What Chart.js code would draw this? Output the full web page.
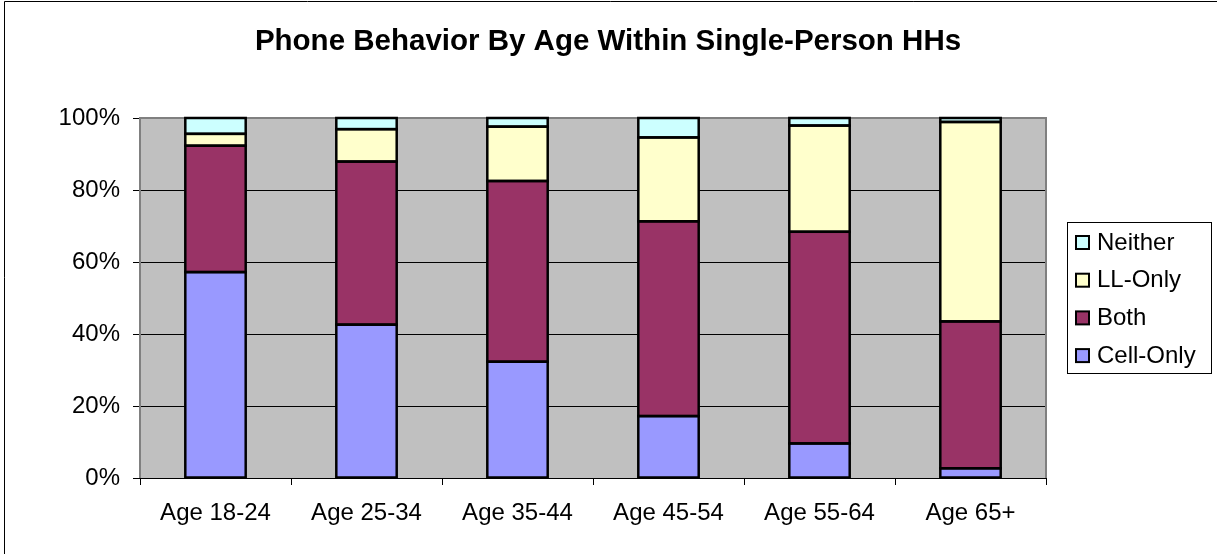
<!DOCTYPE html>
<html>
<head>
<meta charset="utf-8">
<script src="https://cdn.jsdelivr.net/npm/chart.js@4/dist/chart.umd.min.js"></script>
<style>
  html, body { margin: 0; padding: 0; background: #ffffff; }
  #wrap { position: relative; width: 1217px; height: 554px; }
</style>
</head>
<body>
<div id="wrap"><canvas id="c" width="1217" height="554"></canvas></div>
<script>
const categories = ["Age 18-24", "Age 25-34", "Age 35-44", "Age 45-54", "Age 55-64", "Age 65+"];
const cellOnly = [57.2, 42.6, 32.3, 17.2, 9.6, 2.7];
const both     = [35.1, 45.3, 50.2, 54.1, 58.8, 40.8];
const llOnly   = [3.3, 9.0, 15.1, 23.3, 29.5, 55.4];
const neither  = [4.4, 3.1, 2.4, 5.4, 2.1, 1.1];
const yTicks = [0, 20, 40, 60, 80, 100];
const titleText = "Phone Behavior By Age Within Single-Person HHs";

const FONT = "'Liberation Sans', Arial, sans-serif";

const framePlugin = {
  id: 'frame',
  beforeDraw(chart) {
    const ctx = chart.ctx, a = chart.chartArea;
    ctx.save();
    ctx.fillStyle = '#C0C0C0';
    ctx.fillRect(a.left, a.top, a.right - a.left, a.bottom - a.top);
    // outer border (left and top)
    ctx.strokeStyle = '#000000';
    ctx.lineWidth = 1;
    ctx.beginPath();
    ctx.moveTo(4.5, 554);
    ctx.lineTo(4.5, 1.5);
    ctx.lineTo(1217, 1.5);
    ctx.stroke();
    // title
    ctx.fillStyle = '#000000';
    ctx.font = 'bold 29.5px ' + FONT;
    ctx.textAlign = 'center';
    ctx.textBaseline = 'middle';
    ctx.fillText(titleText, 608, 42);
    ctx.restore();
  },
  beforeDatasetsDraw(chart) {
    const ctx = chart.ctx, a = chart.chartArea;
    ctx.save();
    ctx.strokeStyle = '#808080';
    ctx.lineWidth = 2;
    ctx.beginPath();
    ctx.moveTo(a.left, a.bottom);
    ctx.lineTo(a.left, a.top);
    ctx.lineTo(a.right, a.top);
    ctx.lineTo(a.right, a.bottom);
    ctx.stroke();
    ctx.strokeStyle = '#000000';
    ctx.lineWidth = 1;
    ctx.beginPath();
    ctx.moveTo(a.left - 7, a.bottom + 0.5);
    ctx.lineTo(a.right + 1, a.bottom + 0.5);
    ctx.stroke();
    ctx.restore();
  },
  afterDatasetsDraw(chart) {
    // outline every bar segment from the library's own elements
    const ctx = chart.ctx;
    ctx.save();
    ctx.strokeStyle = '#000000';
    ctx.lineWidth = 2.5;
    chart.data.datasets.forEach((d, di) => {
      chart.getDatasetMeta(di).data.forEach(el => {
        const p = el.getProps(['x', 'y', 'base', 'width'], true);
        const left = p.x - p.width / 2;
        const top = Math.min(p.y, p.base);
        const h = Math.abs(p.base - p.y);
        ctx.strokeRect(left, top, p.width, h);
      });
    });
    ctx.restore();
  },
  afterDraw(chart) {
    // legend box (reversed order: top series first)
    const ctx = chart.ctx;
    const x0 = 1067.5, y0 = 222.5, w = 144, h = 151;
    ctx.save();
    ctx.fillStyle = '#ffffff';
    ctx.fillRect(x0, y0, w, h);
    ctx.strokeStyle = '#000000';
    ctx.lineWidth = 1;
    ctx.strokeRect(x0, y0, w, h);
    const ds = chart.data.datasets.slice().reverse();
    ctx.font = '24px ' + FONT;
    ctx.textBaseline = 'middle';
    ctx.textAlign = 'left';
    ds.forEach((d, i) => {
      const cy = 242 + i * 37.7;
      ctx.fillStyle = d.backgroundColor;
      ctx.fillRect(1076, cy - 6, 13, 13);
      ctx.lineWidth = 2;
      ctx.strokeStyle = '#000000';
      ctx.strokeRect(1076, cy - 6, 13, 13);
      ctx.fillStyle = '#000000';
      ctx.fillText(d.label, 1097, cy + 1);
    });
    ctx.restore();
  }
};

const mk = (label, data, color) => ({
  label, data,
  backgroundColor: color,
  borderWidth: 0,
  barPercentage: 0.4,
  categoryPercentage: 1.0
});

new Chart(document.getElementById('c'), {
  type: 'bar',
  data: {
    labels: categories,
    datasets: [
      mk('Cell-Only', cellOnly, '#9999FF'),
      mk('Both', both, '#993366'),
      mk('LL-Only', llOnly, '#FFFFCC'),
      mk('Neither', neither, '#CCFFFF')
    ]
  },
  options: {
    responsive: false,
    animation: false,
    devicePixelRatio: 1,
    layout: { padding: { top: 118, left: 0, right: 171, bottom: 0 } },
    plugins: {
      legend: { display: false },
      tooltip: { enabled: false },
      title: { display: false }
    },
    scales: {
      x: {
        stacked: true,
        offset: true,
        afterFit(s) { s.height = 76; },
        grid: { display: true, drawOnChartArea: false, drawTicks: true, tickLength: 7, color: '#000000', offset: true },
        border: { display: false },
        ticks: { color: '#000000', font: { family: FONT, size: 24 }, padding: 14, maxRotation: 0, autoSkip: false }
      },
      y: {
        stacked: true,
        min: 0,
        max: 100,
        afterFit(s) { s.width = 140; },
        afterBuildTicks(s) { s.ticks = yTicks.map(v => ({ value: v })); },
        grid: { color: '#000000', lineWidth: 1, drawTicks: true, tickLength: 7, tickColor: '#000000' },
        border: { display: false },
        ticks: { color: '#000000', font: { family: FONT, size: 24 }, padding: 13, callback: v => v + '%' }
      }
    }
  },
  plugins: [framePlugin]
});
</script>
</body>
</html>
